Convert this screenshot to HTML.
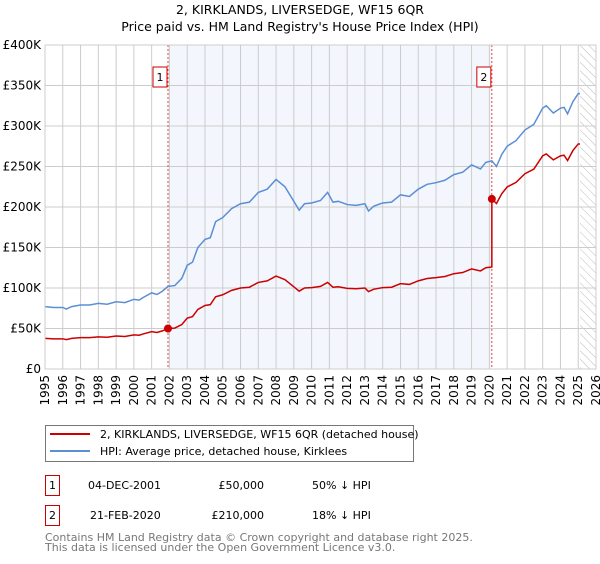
<!DOCTYPE html>
<html><head><meta charset="utf-8"><style>
body{margin:0;background:#fff;font-family:"DejaVu Sans","Liberation Sans",sans-serif;}
</style></head><body>
<svg width="600" height="560" xmlns="http://www.w3.org/2000/svg" font-family="DejaVu Sans, Liberation Sans, sans-serif">
<g id="root"></g>
</svg>
<script>
const years=[1995,1995.5,1996,1996.2,1996.5,1997,1997.5,1998,1998.5,1999,1999.5,2000,2000.3,2000.5,2001,2001.3,2001.6,2001.92,2002.3,2002.7,2003,2003.3,2003.6,2004,2004.3,2004.6,2005,2005.5,2006,2006.5,2007,2007.5,2008,2008.5,2009,2009.3,2009.6,2010,2010.5,2010.9,2011.2,2011.5,2012,2012.5,2013,2013.2,2013.5,2014,2014.5,2015,2015.5,2016,2016.5,2017,2017.5,2018,2018.5,2019,2019.5,2019.8,2020.14,2020.4,2020.7,2021,2021.5,2022,2022.5,2023,2023.2,2023.6,2024,2024.2,2024.4,2024.7,2025,2025.1];
const hpi=[77,76,76,74,77,79,79,81,80,83,82,86,85,88,94,92,96,102,103,112,128,132,150,160,162,182,187,198,204,206,218,222,234,225,207,196,204,205,208,218,206,207,203,202,204,195,201,205,206,215,213,222,228,230,233,240,243,252,247,255,257,250,265,275,282,295,302,322,325,316,322,323,315,330,340,340];
const saleYears=[2001.92,2020.14];
const salePrices=[50,210];
const yTicks=[0,50,100,150,200,250,300,350,400];
const yLabels=["£0","£50K","£100K","£150K","£200K","£250K","£300K","£350K","£400K"];
const xTicks=[1995,1996,1997,1998,1999,2000,2001,2002,2003,2004,2005,2006,2007,2008,2009,2010,2011,2012,2013,2014,2015,2016,2017,2018,2019,2020,2021,2022,2023,2024,2025,2026];
const X0=45,X1=596,Y0=369,Y1=45;
const xs=y=>X0+(y-1995)/(2026-1995)*(X1-X0);
const ys=v=>Y0-v/400*(Y0-Y1);
const NS="http://www.w3.org/2000/svg";
const root=document.getElementById('root');
function mk(t,a,p){const e=document.createElementNS(NS,t);for(const k in a)e.setAttribute(k,a[k]);(p||root).appendChild(e);return e;}
// shade
let sh=mk('rect',{x:xs(saleYears[0]),y:Y1,width:xs(saleYears[1])-xs(saleYears[0]),height:Y0-Y1,fill:'#eef3fc',opacity:0.7});


// hatch
const defs=mk('defs',{});
const pat=mk('pattern',{id:'h',width:6,height:6,patternUnits:'userSpaceOnUse',patternTransform:'rotate(-45)'},defs);
mk('line',{x1:0,y1:0,x2:0,y2:6,stroke:'#bbb','stroke-width':1},pat);
let hr=mk('rect',{x:xs(2025.1),y:Y1,width:X1-xs(2025.1),height:Y0-Y1,fill:'url(#h)'});


// grid
xTicks.forEach((t,i)=>{mk('line',{x1:xs(t),x2:xs(t),y1:Y1,y2:Y0,stroke:'#ccc','stroke-width':1});
 const tx=mk('text',{x:0,y:0,'font-size':12,fill:'#000','text-anchor':'end',transform:`translate(${xs(t)+4},${Y0+6}) rotate(-90)`});tx.textContent=t;
 
 });
yTicks.forEach((t,i)=>{mk('line',{x1:X0,x2:X1,y1:ys(t),y2:ys(t),stroke:'#ccc','stroke-width':1});
 const tx=mk('text',{x:X0-4,y:ys(t)+4,'font-size':12,fill:'#000','text-anchor':'end'});tx.textContent=yLabels[i];
 
 });
// sale lines
saleYears.forEach((s,i)=>{mk('line',{x1:xs(s),x2:xs(s),y1:Y1,y2:Y0,stroke:'#e44','stroke-width':1,'stroke-dasharray':'2,2'});
 const g=mk('g',{});
 mk('rect',{x:xs(s)-15,y:67,width:14,height:20,fill:'#fff',stroke:'#c00'},g);
 const t=mk('text',{x:xs(s)-8,y:81,'font-size':11,'text-anchor':'middle'},g);t.textContent=i+1;});
// series
function red(y,v){return y<saleYears[1]?v*salePrices[0]/hpi[years.indexOf(saleYears[0])]:v*salePrices[1]/hpi[years.indexOf(saleYears[1])];}
let hp=mk('polyline',{points:years.map((y,i)=>xs(y)+','+ys(hpi[i])).join(' '),fill:'none',stroke:'#5b8fd4','stroke-width':1.5});


let rp=[];years.forEach((y,i)=>{if(y===saleYears[1])rp.push(xs(y)+','+ys(red(y-0.001,hpi[i])));rp.push(xs(y)+','+ys(red(y,hpi[i])));});
let pl=mk('polyline',{points:rp.join(' '),fill:'none',stroke:'#cc0000','stroke-width':1.5});


saleYears.forEach((s,i)=>{const c=mk('circle',{cx:xs(s),cy:ys(salePrices[i]),r:4,fill:'#cc0000'});
 
 });
mk('rect',{x:X0,y:Y1,width:X1-X0,height:Y0-Y1,fill:'none',stroke:'#ccc'});
</script>
<svg style="position:absolute;left:0;top:0" width="600" height="560" font-family="DejaVu Sans, Liberation Sans, sans-serif">
<text x="300" y="14" font-size="12.5" text-anchor="middle">2, KIRKLANDS, LIVERSEDGE, WF15 6QR</text>
<text x="300" y="31" font-size="12.5" text-anchor="middle">Price paid vs. HM Land Registry's House Price Index (HPI)</text>
<g>
<rect x="45.5" y="425.5" width="368" height="36" fill="#fff" stroke="#777"/>
<line x1="50" x2="90" y1="434" y2="434" stroke="#cc0000" stroke-width="2"/>
<text x="100" y="438" font-size="11">2, KIRKLANDS, LIVERSEDGE, WF15 6QR (detached house)</text>
<line x1="50" x2="90" y1="451" y2="451" stroke="#5b8fd4" stroke-width="2"/>
<text x="100" y="455" font-size="11">HPI: Average price, detached house, Kirklees</text>
</g>
<g font-size="11">
<rect x="45.5" y="475.5" width="14" height="20" fill="#fff" stroke="#c00"/>
<text x="52.5" y="489" text-anchor="middle">1</text>
<text x="88" y="489">04-DEC-2001</text>
<text x="264" y="489" text-anchor="end">£50,000</text>
<text x="312" y="489">50% ↓ HPI</text>
</g>
<g font-size="11">
<rect x="45.5" y="505.5" width="14" height="20" fill="#fff" stroke="#c00"/>
<text x="52.5" y="519" text-anchor="middle">2</text>
<text x="90" y="519">21-FEB-2020</text>
<text x="264" y="519" text-anchor="end">£210,000</text>
<text x="312" y="519">18% ↓ HPI</text>
</g>
<text x="45" y="541" font-size="11" fill="#777">Contains HM Land Registry data © Crown copyright and database right 2025.</text>
<text x="45" y="551" font-size="11" fill="#777">This data is licensed under the Open Government Licence v3.0.</text>
</svg>
</body></html>
